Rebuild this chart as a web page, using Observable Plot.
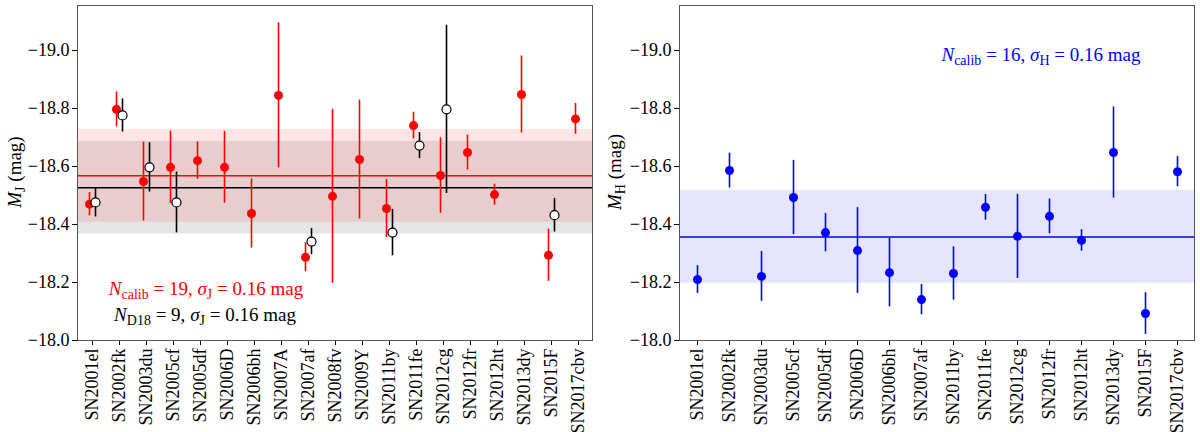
<!DOCTYPE html>
<html>
<head>
<meta charset="utf-8">
<script src="https://cdn.jsdelivr.net/npm/d3@7"></script>
<script src="https://cdn.jsdelivr.net/npm/@observablehq/plot@0.6"></script>
<style>
  body { margin: 0; background: white; }
  #row { display: flex; width: 1200px; }
</style>
</head>
<body>
<div id="row"><div id="left"></div><div id="right"></div></div>
<script>
// J band: calibrators (red) and D18 sample (open black)
const snJ = ["SN2001el","SN2002fk","SN2003du","SN2005cf","SN2005df","SN2006D","SN2006bh","SN2007A","SN2007af","SN2008fv","SN2009Y","SN2011by","SN2011fe","SN2012cg","SN2012fr","SN2012ht","SN2013dy","SN2015F","SN2017cbv"];
const mJ = [-18.47,-18.797,-18.548,-18.597,-18.62,-18.597,-18.438,-18.845,-18.287,-18.497,-18.624,-18.455,-18.741,-18.569,-18.648,-18.503,-18.848,-18.294,-18.764];
const eJ = [0.04,0.06,0.136,0.125,0.064,0.124,0.119,0.25,0.05,0.30,0.205,0.10,0.046,0.13,0.06,0.036,0.133,0.09,0.053];

const snD18 = ["SN2001el","SN2002fk","SN2003du","SN2005cf","SN2007af","SN2011by","SN2011fe","SN2012cg","SN2015F"];
const mD18 = [-18.476,-18.776,-18.597,-18.476,-18.341,-18.372,-18.672,-18.797,-18.432];
const eD18 = [0.05,0.057,0.085,0.105,0.045,0.08,0.045,0.29,0.058];

// H band
const snH = ["SN2001el","SN2002fk","SN2003du","SN2005cf","SN2005df","SN2006D","SN2006bh","SN2007af","SN2011by","SN2011fe","SN2012cg","SN2012fr","SN2012ht","SN2013dy","SN2015F","SN2017cbv"];
const mH = [-18.21,-18.586,-18.221,-18.493,-18.372,-18.31,-18.234,-18.141,-18.231,-18.459,-18.359,-18.428,-18.345,-18.648,-18.093,-18.582];
const eH = [0.048,0.06,0.086,0.128,0.066,0.148,0.118,0.052,0.092,0.044,0.145,0.06,0.037,0.157,0.072,0.052];

// means and scatter
const meanJ = -18.568, meanD18 = -18.527, meanH = -18.357;
const sigma = 0.16;

const yTicks = [-19.0, -18.8, -18.6, -18.4, -18.2, -18.0];
const yDomain = [-18.0, -19.155];

const rows = (sn, m, e) => sn.map((s, i) => ({sn: s, m: m[i], e: e[i]}));
const dataJ = rows(snJ, mJ, eJ);
const dataD18 = rows(snD18, mD18, eD18);
const dataH = rows(snH, mH, eH);

const font = '"Liberation Serif", "DejaVu Serif", serif';

function axes(domain) {
  return {
    x: {type: "point", domain, padding: 0.5, label: null, tickRotate: -90, tickSize: 5, tickPadding: 3},
    y: {domain: yDomain, ticks: yTicks, tickFormat: d3.format(".1f"), label: null, tickSize: 5, tickPadding: 3}
  };
}

function band(mean, color, op) {
  return Plot.rectY([mean], {y1: d => d - sigma, y2: d => d + sigma, fill: color, fillOpacity: op});
}

function errbars(data, color, dx) {
  return Plot.ruleX(data, {x: "sn", y1: d => d.m - d.e, y2: d => d.m + d.e, stroke: color, strokeWidth: 1.6, dx});
}

// math-ish text with italics and subscripts
function addMath(svg, x, y, parts, color, rotate) {
  const t = d3.select(svg).append("text")
    .attr("x", x).attr("y", y)
    .attr("text-anchor", "middle")
    .attr("fill", color)
    .style("font-family", font)
    .style("font-size", "19px")
    .style("white-space", "pre");
  if (rotate) t.attr("transform", `rotate(-90 ${x} ${y})`);
  let shift = 0;
  for (const [s, k] of parts) {
    const ts = t.append("tspan").text(s);
    if (k === "i") ts.style("font-style", "italic");
    const want = k === "sub" ? 4 : 0;
    if (want !== shift) { ts.attr("dy", want - shift); shift = want; }
    if (k === "sub") ts.style("font-size", "14px");
  }
}

const left = Plot.plot({
  width: 600,
  height: 432,
  marginLeft: 77,
  marginRight: 8,
  marginTop: 5,
  marginBottom: 92,
  style: {fontFamily: font, fontSize: "18px", color: "black", background: "white"},
  ...axes(snJ),
  marks: [
    band(meanD18, "black", 0.1),
    band(meanJ, "red", 0.1),
    Plot.ruleY([meanJ], {stroke: "red", strokeWidth: 1.5}),
    Plot.ruleY([meanD18], {stroke: "black", strokeWidth: 1.5}),
    errbars(dataJ, "red", -3),
    Plot.dot(dataJ, {x: "sn", y: "m", r: 4.5, fill: "red", dx: -3}),
    errbars(dataD18, "black", 3),
    Plot.dot(dataD18, {x: "sn", y: "m", r: 4.5, fill: "white", stroke: "black", strokeWidth: 1.2, dx: 3}),
    Plot.frame({stroke: "#555"})
  ]
});

const right = Plot.plot({
  width: 600,
  height: 432,
  marginLeft: 79,
  marginRight: 6,
  marginTop: 5,
  marginBottom: 92,
  style: {fontFamily: font, fontSize: "18px", color: "black", background: "white"},
  ...axes(snH),
  marks: [
    band(meanH, "blue", 0.1),
    Plot.ruleY([meanH], {stroke: "blue", strokeWidth: 1.5}),
    errbars(dataH, "blue", 0),
    Plot.dot(dataH, {x: "sn", y: "m", r: 4.5, fill: "blue"}),
    Plot.frame({stroke: "#555"})
  ]
});

addMath(left, 21, 172, [["M", "i"], ["J", "sub"], [" (mag)", ""]], "black", true);
addMath(left, 206, 295, [["N", "i"], ["calib", "sub"], [" = 19, ", ""], ["σ", "i"], ["J", "sub"], [" = 0.16 mag", ""]], "red");
addMath(left, 205, 321, [["N", "i"], ["D18", "sub"], [" = 9, ", ""], ["σ", "i"], ["J", "sub"], [" = 0.16 mag", ""]], "black");

addMath(right, 21, 172, [["M", "i"], ["H", "sub"], [" (mag)", ""]], "black", true);
addMath(right, 441, 61, [["N", "i"], ["calib", "sub"], [" = 16, ", ""], ["σ", "i"], ["H", "sub"], [" = 0.16 mag", ""]], "blue");

document.getElementById("left").append(left);
document.getElementById("right").append(right);
</script>
</body>
</html>
